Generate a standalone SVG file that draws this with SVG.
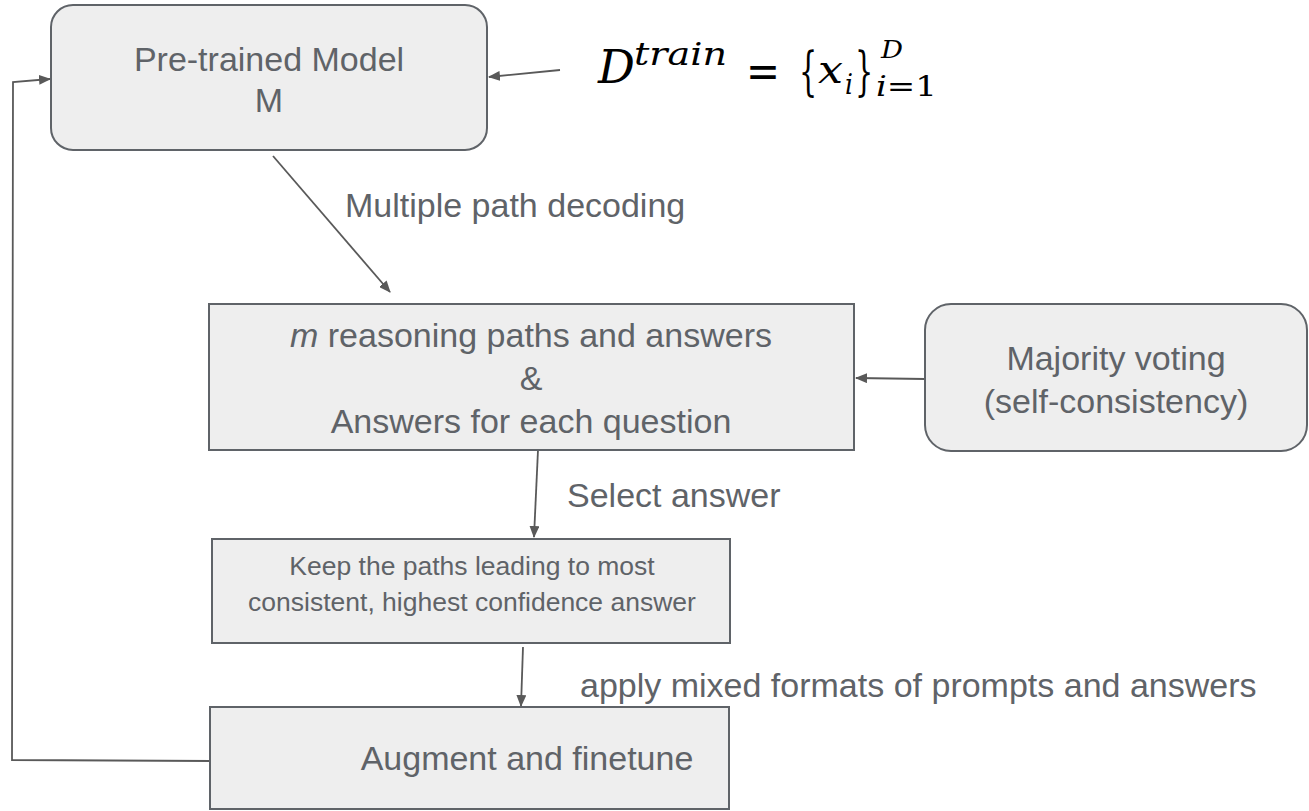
<svg xmlns="http://www.w3.org/2000/svg" width="1309" height="811" viewBox="0 0 1309 811">
  <style>
    .box { fill: #eeeeee; stroke: #5f6368; stroke-width: 2; }
    .lbl { font-family: "Liberation Sans", Arial, sans-serif; font-size: 34px; fill: #5f6368; }
    .small { font-size: 26.5px; }
    .mid { text-anchor: middle; }
    .conn { fill: none; stroke: #595959; stroke-width: 1.8; }
    .math { font-family: "DejaVu Serif", "Liberation Serif", serif; fill: #000000; font-style: italic; }
    .up { font-style: normal; }
  </style>
  <defs>
    <marker id="arrow" viewBox="0 0 12 10" refX="11" refY="5" markerWidth="12" markerHeight="10" markerUnits="userSpaceOnUse" orient="auto">
      <path d="M0,0 L12,5 L0,10 Z" fill="#595959"/>
    </marker>
  </defs>

  <rect width="1309" height="811" fill="#ffffff"/>

  <!-- connectors -->
  <g id="connectors">
    <line class="conn" x1="560" y1="70" x2="489" y2="77" marker-end="url(#arrow)"/>
    <line class="conn" x1="273" y1="156" x2="390" y2="292" marker-end="url(#arrow)"/>
    <line class="conn" x1="925" y1="379" x2="856" y2="378" marker-end="url(#arrow)"/>
    <line class="conn" x1="538" y1="450" x2="534" y2="537" marker-end="url(#arrow)"/>
    <line class="conn" x1="523" y1="647" x2="521" y2="706" marker-end="url(#arrow)"/>
    <polyline class="conn" points="211,761 12,760 13,82 50,79" marker-end="url(#arrow)"/>
    <text class="lbl" x="345" y="217">Multiple path decoding</text>
    <text class="lbl" x="567" y="507">Select answer</text>
    <text class="lbl" x="580" y="697">apply mixed formats of prompts and answers</text>
  </g>

  <!-- training set formula: D^train = {x_i}_{i=1}^D -->
  <g id="formula" class="math">
    <text x="598" y="83" font-size="46">D</text>
    <text x="634" y="65" font-size="32" textLength="93" lengthAdjust="spacingAndGlyphs">train</text>
    <text class="up" x="746" y="87" font-size="46" textLength="34" lengthAdjust="spacingAndGlyphs">=</text>
    <text class="up" transform="translate(799,89) scale(0.55,1)" font-size="52">{</text>
    <text x="818" y="83" font-size="40" textLength="25" lengthAdjust="spacingAndGlyphs">x</text>
    <text x="845" y="94" font-size="28" textLength="8" lengthAdjust="spacingAndGlyphs">i</text>
    <text class="up" transform="translate(855,89) scale(0.55,1)" font-size="52">}</text>
    <text x="881" y="58" font-size="25" textLength="22" lengthAdjust="spacingAndGlyphs">D</text>
    <text x="876" y="96" font-size="28" textLength="61" lengthAdjust="spacingAndGlyphs">i<tspan class="up">=1</tspan></text>
  </g>

  <g id="pretrained">
    <rect class="box" x="51" y="5" width="436" height="145" rx="22"/>
    <text class="lbl mid" x="269" y="71">Pre-trained Model</text>
    <text class="lbl mid" x="269" y="112">M</text>
  </g>

  <g id="paths">
    <rect class="box" x="209" y="304" width="645" height="146"/>
    <text class="lbl mid" x="531" y="347"><tspan font-style="italic">m</tspan> reasoning paths and answers</text>
    <text class="lbl mid" x="531" y="390">&amp;</text>
    <text class="lbl mid" x="531" y="433">Answers for each question</text>
  </g>

  <g id="voting">
    <rect class="box" x="925" y="304" width="382" height="147" rx="26"/>
    <text class="lbl mid" x="1116" y="370">Majority voting</text>
    <text class="lbl mid" x="1116" y="413">(self-consistency)</text>
  </g>

  <g id="keep">
    <rect class="box" x="212" y="539" width="518" height="104"/>
    <text class="lbl small mid" x="472" y="575">Keep the paths leading to most</text>
    <text class="lbl small mid" x="472" y="611">consistent, highest confidence answer</text>
  </g>

  <g id="augment">
    <rect class="box" x="210" y="707" width="519" height="102"/>
    <text class="lbl mid" x="527" y="770">Augment and finetune</text>
  </g>
</svg>
